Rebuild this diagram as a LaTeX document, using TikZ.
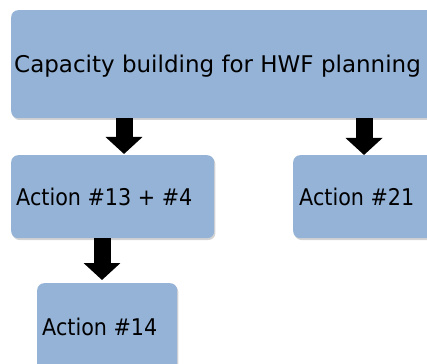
\documentclass[tikz,border=0pt]{standalone}
\usepackage{fontspec}
\setmainfont{DejaVu Sans}
\newfontfamily\narrowfont{DejaVu Sans}[FakeStretch=0.9]
\usetikzlibrary{arrows.meta,shadows}
\definecolor{boxblue}{HTML}{95B3D7}
\begin{document}
\begin{tikzpicture}[x=1pt,y=-1pt,
  box/.style={fill=boxblue, rounded corners=7pt, anchor=north west, inner sep=0pt,
    drop shadow={shadow xshift=1.2pt,shadow yshift=-1.8pt,opacity=0.35}},
  txt/.style={anchor=base west, inner sep=0pt, font=\fontsize{23}{27}\selectfont},
  acttxt/.style={txt, font=\fontsize{23}{27}\selectfont\narrowfont},
  blockarrow/.style={line width=17pt, -{Triangle[width=36pt,length=17pt]}, black}]
\useasboundingbox (0,0) rectangle (427,363);
\node[box, minimum width=440pt, minimum height=108pt] (top) at (11,10) {};
\node[box, minimum width=203pt, minimum height=83pt] (a13) at (11,155) {};
\node[box, minimum width=150pt, minimum height=83pt] (a21) at (293,155) {};
\node[box, minimum width=140pt, minimum height=100pt] (a14) at (37,283) {};
\node[txt] (ttop) at ([xshift=3pt,yshift=-8.5pt]top.west) {Capacity building for HWF planning};
\node[acttxt] (t13) at ([xshift=5pt,yshift=-8.5pt]a13.west) {Action \#13 + \#4};
\node[acttxt] (t21) at ([xshift=6pt,yshift=-8.5pt]a21.west) {Action \#21};
\node[acttxt] (t14) at ([xshift=5pt,yshift=-2pt]a14.west) {Action \#14};
\coordinate (x1) at (124,0);
\coordinate (x2) at (364,0);
\coordinate (x3) at (102,0);
\draw[blockarrow, shorten >=1pt] (top.south -| x1) -- (a13.north -| x1);
\draw[blockarrow, shorten >=0pt] (top.south -| x2) -- (a21.north -| x2);
\draw[blockarrow, shorten >=3pt] (a13.south -| x3) -- (a14.north -| x3);
\end{tikzpicture}
\end{document}
